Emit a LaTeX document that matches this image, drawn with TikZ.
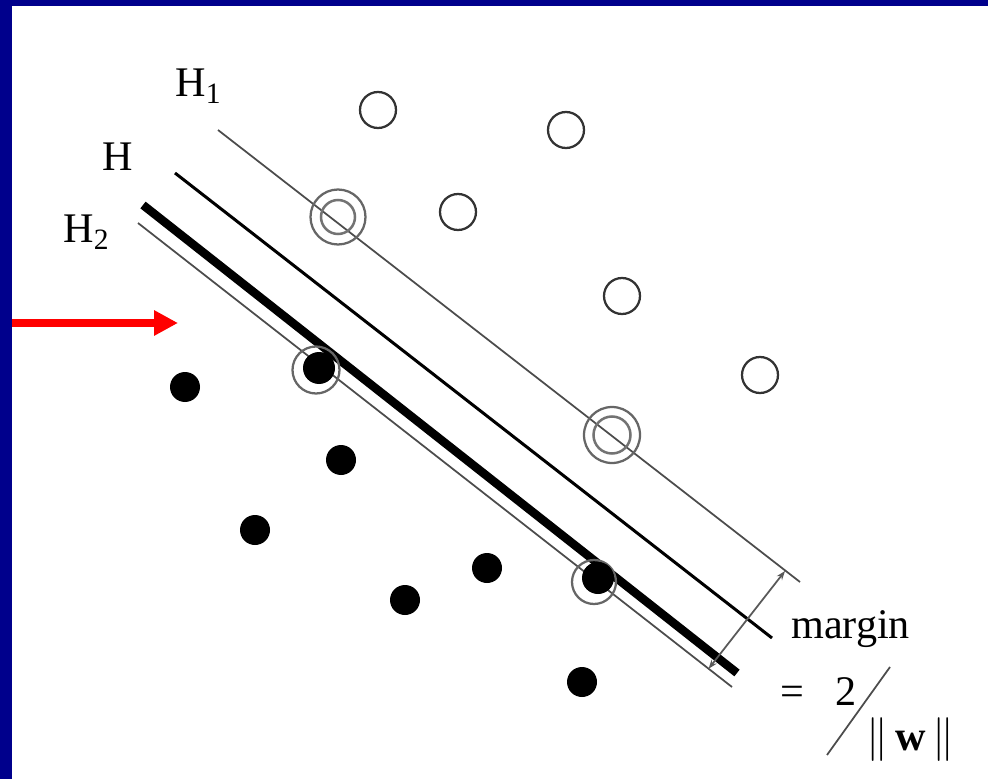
\documentclass[tikz,border=0pt]{standalone}
\usepackage{fontspec}
\setmainfont{Liberation Serif}
\usetikzlibrary{arrows.meta,calc}
\definecolor{framenavy}{RGB}{0,0,140}

\begin{document}
\begin{tikzpicture}[x=0.2mm,y=-0.2mm,
  font=\fontsize{24}{28}\selectfont,
  lbl/.style={inner sep=0pt, anchor=base west},
  openpt/.style={circle, draw=black!80, line width=0.45mm, minimum size=7.2mm, inner sep=0pt},
  opensv/.style={circle, draw=black!55, line width=0.5mm, minimum size=6.8mm, inner sep=0pt},
  ring/.style={circle, draw=black!60, line width=0.45mm, inner sep=0pt},
  fillpt/.style={circle, fill=black, minimum size=6mm, inner sep=0pt},
  thinl/.style={draw=black!70, line width=0.35mm},
  midl/.style={draw=black, line width=0.6mm},
  sepl/.style={draw=black, line width=1.7mm},
  dimline/.style={draw=black!65, line width=0.35mm, {Stealth[length=1.8mm,width=1.3mm]}-{Stealth[length=1.8mm,width=1.3mm]}},
  redarrow/.style={draw=red, line width=1.7mm, -{Triangle[length=4.8mm,width=4.8mm]}},
]
% ---------------- frame ----------------
\fill[framenavy] (0,0) rectangle (988,779);
\fill[white] (12,6) rectangle (988,779);
\useasboundingbox (0,0) rectangle (988,779);
% ---------------- hyperplanes ----------------
\coordinate (h1a) at (218,130);  \coordinate (h1b) at (800,582);
\coordinate (ha)  at (175,173);  \coordinate (hb)  at (772,638);
\coordinate (sa)  at (143,205);  \coordinate (sb)  at (737,673);
\coordinate (h2a) at (138,223);  \coordinate (h2b) at (732,687);
\draw[thinl] (h1a) -- (h1b);
\draw[midl] (ha) -- (hb);
\draw[sepl] (sa) -- (sb);
\draw[thinl] (h2a) -- (h2b);
% ---------------- open points ----------------
\node[openpt] (o1) at (378,110) {};
\node[openpt] (o2) at (566,130) {};
\node[openpt] (o3) at (458,212) {};
\node[openpt] (o4) at (622,296) {};
\node[openpt] (o5) at (760,375) {};
\node[ring, minimum size=11mm] (so1r) at (338,217) {};
\node[opensv] (so1) at (338,217) {};
\node[ring, minimum size=11.2mm] (so2r) at (612,435) {};
\node[opensv, minimum size=7.4mm] (so2) at (612,435) {};
% ---------------- filled points ----------------
\node[fillpt] (f1) at (185,387) {};
\node[fillpt] (f2) at (341,460) {};
\node[fillpt] (f3) at (255,530) {};
\node[fillpt] (f4) at (405,600) {};
\node[fillpt] (f5) at (487,568) {};
\node[fillpt] (f6) at (582,682) {};
\node[ring, minimum size=9.4mm] (sf1r) at (316,370) {};
\node[fillpt, minimum size=6.4mm] (sf1) at (319,368) {};
\node[ring, minimum size=8.8mm] (sf2r) at (594,582) {};
\node[fillpt, minimum size=6.4mm] (sf2) at (598,578) {};
% ---------------- margin ----------------
\coordinate (m1) at (785,571);
\coordinate (m2) at ($(h2a)!(m1)!(h2b)$);
\draw[dimline] (m2) -- (m1);
\node[lbl] (mtxt) at (791,638) {margin};
\node[lbl] (eq) at (780,705) {=};
\node[lbl] (two) at (835,705) {2};
\coordinate (sl1) at (827,755);  \coordinate (sl2) at (890,667);
\draw[draw=black!70, line width=0.35mm] (sl1) -- (sl2);
\node[lbl] (nw) at (866,750) {$\|$\,\textbf{w}\,$\|$};
% ---------------- labels ----------------
\node[lbl] (lh1) at (175,97) {H\textsubscript{1}};
\node[lbl] (lh) at (102,170) {H};
\node[lbl] (lh2) at (63,243) {H\textsubscript{2}};
% ---------------- pointer ----------------
\coordinate (ra) at (12,323);
\coordinate (rb) at (178,323);
\draw[redarrow] (ra) -- (rb);
\end{tikzpicture}
\end{document}
